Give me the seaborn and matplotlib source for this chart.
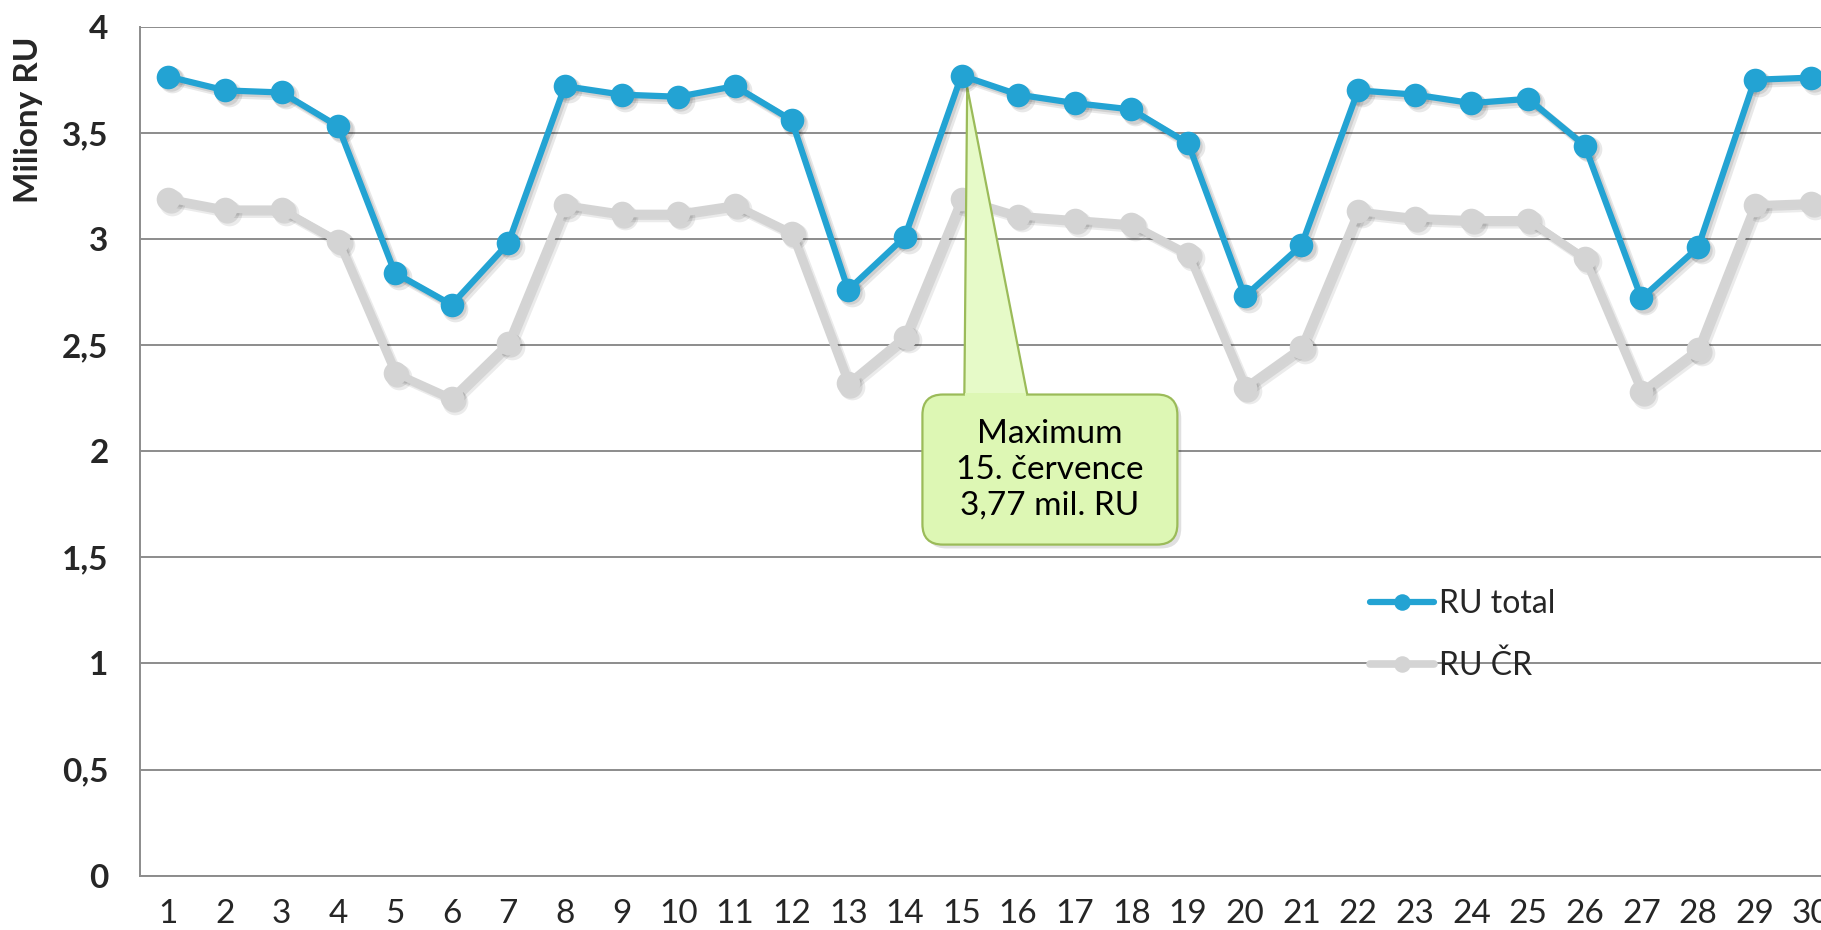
import matplotlib
matplotlib.use("Agg")
import numpy as np
import pandas as pd
import matplotlib.pyplot as plt
import matplotlib.transforms as mtransforms
from matplotlib.patches import FancyBboxPatch, Polygon
import seaborn as sns

# data (July, millions of RU)
days = list(range(1, 31))
ru_total = [3.765, 3.70, 3.69, 3.53, 2.84, 2.69, 2.98, 3.72, 3.68, 3.67,
            3.72, 3.56, 2.76, 3.01, 3.77, 3.68, 3.64, 3.61, 3.45, 2.73,
            2.97, 3.70, 3.68, 3.64, 3.66, 3.44, 2.72, 2.96, 3.75, 3.76]
ru_cr = [3.19, 3.14, 3.14, 2.99, 2.37, 2.25, 2.51, 3.16, 3.12, 3.12,
         3.16, 3.03, 2.32, 2.54, 3.19, 3.11, 3.09, 3.07, 2.93, 2.30,
         2.49, 3.13, 3.10, 3.09, 3.09, 2.91, 2.28, 2.48, 3.16, 3.17]
series = ["RU total", "RU ČR"]
y_ticks = [0, 0.5, 1, 1.5, 2, 2.5, 3, 3.5, 4]
y_ticklabels = ["0", "0,5", "1", "1,5", "2", "2,5", "3", "3,5", "4"]
callout_text = "Maximum\n15. července\n3,77 mil. RU"

df = pd.DataFrame({
    "den": days + days,
    "RU": ru_total + ru_cr,
    "serie": [series[0]] * len(days) + [series[1]] * len(days),
})

sns.set_style("white")
plt.rcParams["font.family"] = ["Lato", "DejaVu Sans"]

blue = "#23A3D3"
grey = "#D4D4D4"
axis_grey = "#8C8C8C"

fig = plt.figure(figsize=(18.21, 9.30), dpi=100)
ax = fig.add_axes([140 / 1821, 1 - 875.7 / 930, 1 - 140 / 1821, 849 / 930])

shadow = mtransforms.offset_copy(ax.transData, fig=fig, x=2.8, y=-2.8, units="points")
shadow2 = mtransforms.offset_copy(ax.transData, fig=fig, x=1.6, y=-1.6, units="points")

# grey series first, blue on top
d_cr = df[df["serie"] == series[1]]
for tr, a, extra in [(shadow, 0.08, 1.5), (shadow2, 0.09, 0.5)]:
    ax.plot(d_cr["den"], d_cr["RU"], transform=tr, color="k", alpha=a,
            lw=5.5 + extra, marker="o", ms=17 + extra, mew=0, zorder=2)
sns.lineplot(data=d_cr, x="den", y="RU", color=grey, lw=5.5, marker="o",
             ms=17, mew=0, label=series[1], zorder=2.1, ax=ax)

d_tot = df[df["serie"] == series[0]]
for tr, a, extra in [(shadow, 0.09, 1.5), (shadow2, 0.10, 0.5)]:
    ax.plot(d_tot["den"], d_tot["RU"], transform=tr, color="k", alpha=a,
            lw=4.5 + extra, marker="o", ms=17 + extra, mew=0, zorder=3)
sns.lineplot(data=d_tot, x="den", y="RU", color=blue, lw=4.5, marker="o",
             ms=17, mew=0, label=series[0], zorder=3.1, ax=ax)

# callout for the maximum
i_max = int(np.argmax(ru_total))
tip = (days[i_max] + 0.1, ru_total[i_max] - 0.055)
bx0, bx1, by0, by1 = 14.31, 18.81, 1.56, 2.267
face = "#DDF7B4"
edge = "#9BBB59"
aspect = 0.267
box_shadow = FancyBboxPatch((bx0, by0), bx1 - bx0, by1 - by0,
                            boxstyle="round,pad=0,rounding_size=0.36",
                            mutation_aspect=aspect, fc="k", ec="none", alpha=0.12,
                            transform=shadow, zorder=2.4)
ax.add_patch(box_shadow)
box = FancyBboxPatch((bx0, by0), bx1 - bx0, by1 - by0,
                     boxstyle="round,pad=0,rounding_size=0.36",
                     mutation_aspect=aspect, fc=face, ec=edge, lw=1.6, zorder=2.5)
ax.add_patch(box)
wl, wr = 15.05, 16.16
wedge = Polygon([(wl, by1), tip, (wr, by1)], closed=False, fc="#E6FAC8", ec=edge,
                lw=1.6, zorder=2.6)
ax.add_patch(wedge)
cover = Polygon([(wl + 0.02, by1 - 0.03), (wl + 0.02, by1 + 0.005),
                 (wr - 0.03, by1 + 0.005), (wr - 0.03, by1 - 0.03)],
                fc=face, ec="none", zorder=2.7)
ax.add_patch(cover)
ax.text((bx0 + bx1) / 2, (by0 + by1) / 2, callout_text, ha="center", va="center",
        fontsize=24, linespacing=1.25, color="black", zorder=2.8)

# axes styling (ticks first, limits after, so set_xticks cannot widen the view)
ax.set_yticks(y_ticks)
ax.set_yticklabels(y_ticklabels, fontsize=24, fontweight="bold")
ax.set_xticks(days)
ax.set_xticklabels([str(d) for d in days], fontsize=24)
ax.set_xticks(np.arange(0.5, 30.6, 1), minor=True)
ax.set_xlim(0.5, 30.17)
ax.set_ylim(0, 4)
ax.tick_params(axis="x", which="major", length=0, pad=17)
ax.tick_params(axis="x", which="minor", length=7.5, width=1.4, color=axis_grey)
ax.tick_params(axis="y", which="major", length=8.6, width=1.4, color=axis_grey, pad=14)
ax.yaxis.grid(True, color=axis_grey, lw=1.4)
ax.set_axisbelow(True)
for s in ["top", "right"]:
    ax.spines[s].set_visible(False)
for s in ["left", "bottom"]:
    ax.spines[s].set_color(axis_grey)
    ax.spines[s].set_linewidth(1.4)

ax.set_xlabel("")
ax.set_ylabel("Miliony RU", fontsize=24, fontweight="bold")
ax.yaxis.set_label_coords(-0.058, 0.89)

handles, labels = ax.get_legend_handles_labels()
order = [labels.index(series[0]), labels.index(series[1])]
ax.legend([handles[i] for i in order], [labels[i] for i in order],
          loc="center left", bbox_to_anchor=(1370 / 1821, 1 - 635 / 930),
          bbox_transform=fig.transFigure, frameon=False, fontsize=23,
          handlelength=2.0, handletextpad=0.15, labelspacing=1.0,
          borderpad=0, borderaxespad=0, markerscale=0.7)

fig.savefig("out.png", dpi=100)
